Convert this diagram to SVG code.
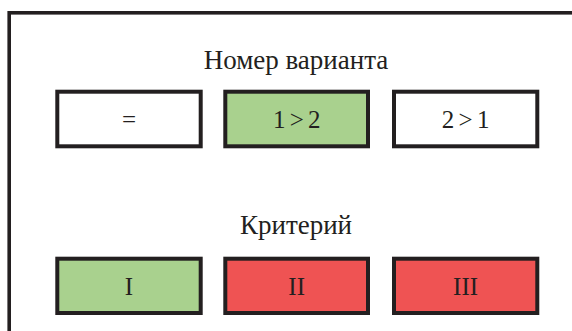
<svg xmlns="http://www.w3.org/2000/svg" width="572" height="331" viewBox="0 0 572 331">
<style>
.frame{fill:#fff;stroke:#231f20;stroke-width:3.6}
.box{stroke:#231f20;stroke-width:4}
.w{fill:#fff}
.g{fill:#a9d18e}
.r{fill:#ef5353}
text{font-family:"Liberation Serif","Times New Roman",serif;fill:#231f20;text-anchor:middle}
.t{font-size:27px}
.b{font-size:25px}
</style>
<rect class="frame" x="9.2" y="12.8" width="600" height="360"/>
<g id="title1"><text class="t" x="296" y="69">Номер варианта</text></g>
<g id="eq"><rect class="box w" x="57.3" y="91.7" width="143.4" height="54.6"/><text class="b" x="129" y="128">=</text></g>
<g id="gt12"><rect class="box g" x="225.3" y="91.7" width="142.7" height="54.6"/><text class="b" x="296.7" y="128" word-spacing="-2">1 &gt; 2</text></g>
<g id="gt21"><rect class="box w" x="394" y="91.7" width="143.3" height="54.6"/><text class="b" x="465.6" y="128" word-spacing="-2">2 &gt; 1</text></g>
<g id="title2"><text class="t" x="296" y="234">Критерий</text></g>
<g id="c1"><rect class="box g" x="57.3" y="258.7" width="143.4" height="54.3"/><text class="b" x="129" y="295">I</text></g>
<g id="c2"><rect class="box r" x="225.3" y="258.7" width="142.7" height="54.3"/><text class="b" x="296.7" y="295">II</text></g>
<g id="c3"><rect class="box r" x="394" y="258.7" width="143.3" height="54.3"/><text class="b" x="465.6" y="295">III</text></g>
<g id="connectors"/>
</svg>
